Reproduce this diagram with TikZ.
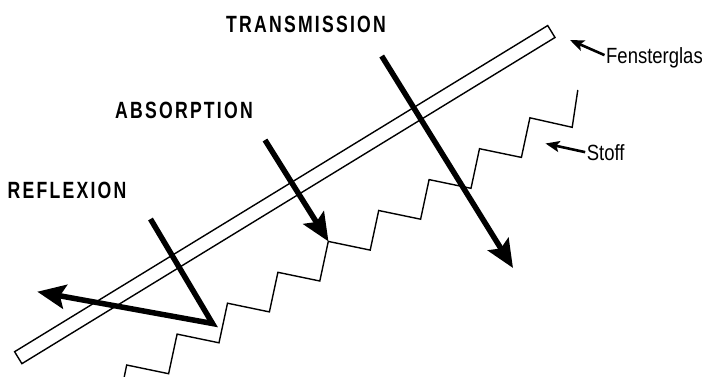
\documentclass[tikz,border=0pt]{standalone}
\usepackage{fontspec}
\usetikzlibrary{arrows.meta}
\newfontfamily\labelfont[FakeStretch=0.75,LetterSpace=9.5]{Liberation Sans Bold}
\newfontfamily\notefont[FakeStretch=0.84]{Liberation Sans}

\begin{document}
\begin{tikzpicture}[x=1pt, y=-1pt,
  ray/.style={line width=5.5pt, -{Stealth[length=28pt, width=24pt, inset=5pt]}},
  pointer/.style={line width=2.6pt, -{Stealth[length=14pt, width=11pt, inset=3pt]}},
  edge/.style={line width=1.4pt},
  caption/.style={font=\labelfont\fontsize{23.5}{26}\selectfont, inner sep=0pt, anchor=base},
  note/.style={font=\notefont\fontsize{22}{24}\selectfont, inner sep=1.5pt, anchor=base west}]
  \useasboundingbox (0,0) rectangle (702,376);

  % window glass and fabric
  \node[draw, edge, rotate=31.46, minimum width=625pt, minimum height=14pt, inner sep=0pt] (glas) at (284.8,194.6) {};
  \draw[edge] (123.6,380) -- (126.7,365)
    \foreach \i in {1,...,8} { -- ++(41.9,8.7) -- ++(8.5,-39.6) }
    -- ++(42.3,9.5) -- ++(5.6,-37.3);

  % rays
  \coordinate (reflIn) at (150.5,219);
  \coordinate (reflHit) at (212.5,323.5);
  \coordinate (reflOut) at (37.3,291.7);
  \coordinate (absIn) at (265,140);
  \coordinate (absHit) at (328.5,241.5);
  \coordinate (transIn) at (381.7,56);
  \coordinate (transOut) at (513,268);
  \draw[ray] (reflIn) -- (reflHit) -- (reflOut);
  \draw[ray] (absIn) -- (absHit);
  \draw[ray] (transIn) -- (transOut);

  % labels
  \node[caption] (transmission) at (306,32) {TRANSMISSION};
  \node[caption] (absorption) at (184,118.3) {ABSORPTION};
  \node[caption] (reflexion) at (67,198.3) {REFLEXION};

  \coordinate (glaspoint) at (570,40);
  \coordinate (stoffpoint) at (545.5,143.5);
  \node[note] (fensterglas) at (604.5,63.3) {Fensterglas};
  \node[note] (stoff) at (585.2,160) {Stoff};
  \draw[pointer] ([yshift=2.5pt]fensterglas.west) -- (glaspoint);
  \draw[pointer] (stoff.west) -- (stoffpoint);
\end{tikzpicture}
\end{document}
